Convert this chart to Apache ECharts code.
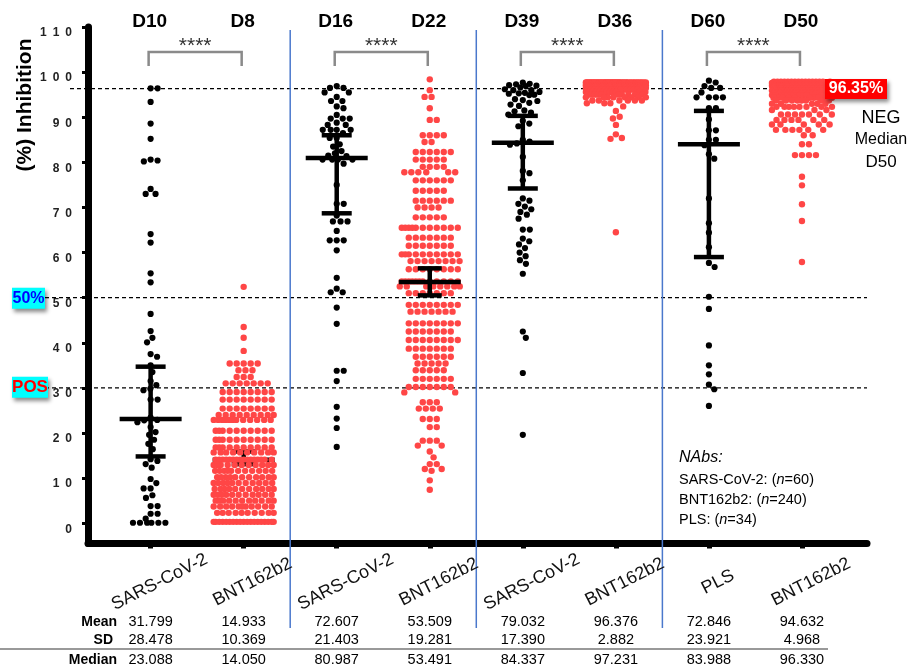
<!DOCTYPE html>
<html>
<head>
<meta charset="utf-8">
<script src="https://cdn.jsdelivr.net/npm/echarts@6/dist/echarts.min.js"></script>
<style>
  html, body { margin: 0; padding: 0; background: #fff; }
  #chart { width: 914px; height: 668px; }
</style>
</head>
<body>
<div id="chart"></div>
<script>
// ---- data ----
var groupNames = ['SARS-CoV-2', 'BNT162b2', 'SARS-CoV-2', 'BNT162b2', 'SARS-CoV-2', 'BNT162b2', 'PLS', 'BNT162b2'];
var dayNames = ['D10', 'D8', 'D16', 'D22', 'D39', 'D36', 'D60', 'D50'];
var yTicks = [0, 10, 20, 30, 40, 50, 60, 70, 80, 90, 100, 110];

// black groups: single values
var d10 = [96.4, 96.4, 93.4, 88.6, 85.2, 80.6, 80.4, 80.2, 74.1, 73.0, 73.0, 64.1, 62.2, 55.4, 53.4,
  46.4, 42.6, 41.1, 40.1, 37.5, 36.9, 35.0, 33.5, 31.5, 30.6, 29.8, 29.5, 27.4, 27.4, 22.9, 23.4,
  22.8, 22.4, 21.3, 20.2, 19.6, 18.5, 17.6, 16.4, 14.2, 13.8, 13.1, 12.3, 9.8, 8.9, 7.7, 7.7, 6.2,
  5.6, 3.8, 3.8, 2.1, 2.1, 1.0, 0.1, 0.1, 0.1, 0.1, 0.1, 0.1];
var d16 = [96.9, 96.5, 96.5, 95.5, 95.5, 94.5, 93.6, 93.6, 92.4, 92.0, 90.5, 89.7, 89.7, 89.7, 88.8,
  88.3, 88.3, 87.2, 87.2, 87.2, 87.2, 86.5, 85.4, 85.4, 84.0, 83.5, 82.5, 82.0, 81.5, 81.4, 80.6,
  80.6, 80.6, 80.6, 79.7, 75.0, 70.8, 70.8, 68.2, 66.9, 66.9, 66.9, 64.8, 62.7, 62.7, 62.7, 60.5,
  54.4, 52.0, 51.2, 51.2, 47.8, 44.2, 33.8, 33.8, 31.5, 25.8, 23.2, 21.1, 16.9];
var d39 = [97.7, 97.4, 97.3, 97.1, 97.0, 96.9, 96.6, 96.0, 96.0, 96.2, 95.6, 95.4, 95.2, 95.0, 94.9,
  95.3, 93.6, 93.2, 92.8, 92.5, 94.0, 93.8, 91.0, 90.6, 91.5, 91.3, 89.2, 88.6, 88.0, 85.0, 84.6,
  84.2, 83.9, 81.2, 78.1, 77.6, 76.0, 72.0, 71.5, 70.8, 70.2, 69.6, 69.0, 68.4, 67.5, 65.1, 65.1,
  63.1, 62.5, 61.8, 61.0, 60.0, 59.2, 58.3, 57.5, 55.3, 42.5, 41.1, 33.3, 19.6];
var d60 = [98.1, 97.7, 96.9, 96.5, 96.5, 95.5, 94.4, 94.4, 94.4, 94.4, 92.0, 92.0, 89.5, 87.1, 87.1,
  85.0, 85.0, 83.8, 81.8, 80.8, 72.0, 66.5, 64.4, 61.2, 57.7, 56.8, 50.2, 47.5, 39.4, 35.0, 33.0,
  30.7, 29.7, 26.0];

// red groups: rows of [value, number of dots in that row]
var d8Rows = [[52.4, 1], [43.5, 1], [41.1, 1], [38.2, 1], [35.4, 5], [33.9, 3], [32.4, 3], [31.0, 7],
  [29.1, 8], [27.4, 8], [25.4, 8], [24.0, 9], [22.9, 12], [20.5, 10], [18.5, 10], [16.8, 10], [15.7, 10],
  [14.1, 16], [12.9, 11], [11.6, 11], [10.2, 11], [8.9, 11], [7.6, 11], [6.3, 11], [5.0, 11], [3.7, 11],
  [2.3, 10], [0.3, 19]];
var d22Rows = [[98.4, 1], [96.0, 1], [94.5, 2], [92.0, 1], [89.4, 2], [86.0, 4], [84.5, 2], [82.3, 6],
  [80.6, 5], [79.0, 4], [77.8, 6], [76.0, 6], [73.7, 5], [71.5, 6], [70.0, 4], [67.8, 5], [65.5, 11],
  [63.3, 7], [61.5, 7], [59.6, 10], [58.1, 8], [56.3, 8], [53.6, 12], [52.5, 8], [51.0, 7], [48.4, 8],
  [46.9, 7], [44.3, 8], [42.5, 7], [40.6, 8], [38.7, 7], [36.9, 6], [35.4, 5], [33.9, 5], [32.0, 6],
  [30.2, 7], [29.0, 2], [26.8, 3], [25.4, 4], [23.1, 3], [21.3, 2], [18.3, 3], [17.2, 2], [15.9, 1],
  [14.6, 1], [13.1, 2], [12.0, 2], [11.6, 1], [9.5, 1], [7.4, 1]];
var d36Rows = [[97.7, 45], [97.4, 50], [97.1, 35], [96.8, 25], [96.5, 20], [96.1, 17], [95.6, 12],
  [95.0, 10], [94.4, 8], [93.7, 6], [93.1, 3], [92.4, 1], [91.4, 1], [90.1, 1], [89.7, 1], [88.3, 1],
  [86.2, 1], [85.4, 1], [85.2, 1], [64.5, 1]];
var d50Rows = [[97.9, 16], [97.6, 22], [97.3, 22], [97.0, 22], [96.7, 20], [96.3, 19], [95.9, 17],
  [95.4, 18], [94.9, 13], [94.3, 10], [93.7, 8], [93.0, 5], [92.3, 8], [91.6, 3], [90.6, 7], [89.4, 6],
  [88.4, 5], [87.2, 6], [86.0, 2], [84.0, 2], [81.6, 4], [76.8, 1], [74.9, 1], [70.7, 1], [67.0, 1],
  [57.9, 1]];

// median with error bars (drawn), and table statistics
var medians = [23.088, 14.050, 80.987, 53.491, 84.337, 97.231, 83.988, 96.330];
var barLow = [14.8, 13.1, 68.7, 50.5, 74.2, 96.5, 59.0, 95.6];
var barHigh = [34.7, 15.9, 86.0, 56.5, 90.3, 97.8, 91.4, 97.0];
var means = [31.799, 14.933, 72.607, 53.509, 79.032, 96.376, 72.846, 94.632];
var sds = [28.478, 10.369, 21.403, 19.281, 17.390, 2.882, 23.921, 4.968];

var negMedian = 96.35;
var cutoff50 = 50;
var cutoffPos = 30;

function expand(rows) {
  var out = [];
  rows.forEach(function (r) { for (var k = 0; k < r[1]; k++) out.push(r[0]); });
  return out;
}

var groups = [d10, expand(d8Rows), d16, expand(d22Rows), d39, expand(d36Rows), d60, expand(d50Rows)];
var isRed = [false, true, false, true, false, true, false, true];
var barsUnderDots = [1, 5, 7];

// ---- chart ----
var FONT = '"Liberation Sans", Arial, sans-serif';
var chart = echarts.init(document.getElementById('chart'));

chart.setOption({
  animation: false,
  backgroundColor: '#fff',
  grid: { left: 88, right: 47, top: 27, bottom: 124.5 },
  xAxis: {
    type: 'value', min: -0.673, max: 7.699,
    axisLine: { onZero: false, lineStyle: { color: '#000', width: 7 } },
    axisTick: { show: true, customValues: [0, 1, 2, 3, 4, 5, 6, 7], length: 5, lineStyle: { color: '#000', width: 5 } },
    axisLabel: { show: false },
    splitLine: { show: false }
  },
  yAxis: {
    type: 'value', min: -4.5, max: 110,
    axisLine: { show: true, onZero: false, lineStyle: { color: '#000', width: 7 } },
    axisTick: { show: true, customValues: yTicks, length: 6, lineStyle: { color: '#000', width: 3 } },
    axisLabel: {
      customValues: yTicks, margin: 16, verticalAlign: 'top',
      fontFamily: FONT, fontSize: 12, fontWeight: 'bold', color: '#222',
      formatter: function (v) { return String(v).split('').join('\u2002'); }
    },
    splitLine: { show: false }
  },
  series: [{ type: 'scatter', data: [] }]
});

function xp(v) { return chart.convertToPixel({ xAxisIndex: 0 }, v); }
function yp(v) { return chart.convertToPixel({ yAxisIndex: 0 }, v); }
var pxPerX = xp(1) - xp(0);
var pxPerY = yp(0) - yp(1);

// beeswarm offsets (pixels) for a list of values
function swarm(values, diam, maxHalf) {
  var order = values.map(function (v, i) { return i; })
    .sort(function (a, b) { return values[b] - values[a]; });
  var placed = [];
  var out = new Array(values.length);
  var d2 = diam * diam;
  order.forEach(function (i) {
    var y = values[i] * pxPerY;
    var near = placed.filter(function (p) { return Math.abs(p.y - y) < diam; });
    var cands = [0];
    near.forEach(function (p) {
      var dx = Math.sqrt(d2 - (p.y - y) * (p.y - y));
      cands.push(p.x + dx, p.x - dx);
    });
    var ok = cands.filter(function (c) {
      if (Math.abs(c) > maxHalf) return false;
      return near.every(function (p) { return (p.x - c) * (p.x - c) + (p.y - y) * (p.y - y) >= d2 - 0.01; });
    }).sort(function (a, b) { return (Math.abs(a) - Math.abs(b)) || (b - a); });
    var x = 0;
    if (ok.length) {
      x = ok[0];
    } else {
      var best = -1;
      for (var c = -maxHalf; c <= maxHalf; c += 0.5) {
        var m = Infinity;
        near.forEach(function (p) {
          var d = (p.x - c) * (p.x - c) + (p.y - y) * (p.y - y);
          if (d < m) m = d;
        });
        if (m > best) { best = m; x = c; }
      }
    }
    placed.push({ x: x, y: y });
    out[i] = x;
  });
  return out;
}

var dotSeries = groups.map(function (vals, g) {
  var off = isRed[g] ? swarm(vals, 7, 30) : swarm(vals, 7, 18);
  return {
    type: 'scatter',
    silent: true,
    symbol: 'circle',
    symbolSize: isRed[g] ? 6.4 : 6.2,
    z: 3,
    itemStyle: { color: isRed[g] ? '#ff4646' : '#000', opacity: 1 },
    data: vals.map(function (v, k) { return [g + off[k] / pxPerX, v]; })
  };
});

function barData(under) {
  return medians.map(function (m, g) { return [g, m, barLow[g], barHigh[g]]; })
    .filter(function (d) { return (barsUnderDots.indexOf(d[0]) >= 0) === under; });
}

function renderBar(params, api) {
  var g = api.value(0);
  var c = api.coord([g, api.value(1)]);
  var lo = api.coord([g, api.value(2)]);
  var hi = api.coord([g, api.value(3)]);
  var capHalf = isRed[g] ? 12 : 15;
  var medHalf = 31;
  var st = { stroke: '#000', lineWidth: 4.5 };
  return {
    type: 'group',
    children: [
      { type: 'line', shape: { x1: c[0], y1: lo[1], x2: c[0], y2: hi[1] }, style: st },
      { type: 'line', shape: { x1: c[0] - capHalf, y1: lo[1], x2: c[0] + capHalf, y2: lo[1] }, style: st },
      { type: 'line', shape: { x1: c[0] - capHalf, y1: hi[1], x2: c[0] + capHalf, y2: hi[1] }, style: st },
      { type: 'line', shape: { x1: c[0] - medHalf, y1: c[1], x2: c[0] + medHalf, y2: c[1] }, style: st }
    ]
  };
}

var series = [
  { type: 'custom', silent: true, z: 2, renderItem: renderBar, data: barData(true) }
].concat(dotSeries).concat([
  { type: 'custom', silent: true, z: 4, renderItem: renderBar, data: barData(false) }
]);

// ---- annotations ----
var gr = [];
function txt(x, y, text, opts) {
  var s = Object.assign({ text: text, x: x, y: y, fontFamily: FONT, fontSize: 14, fill: '#000', align: 'center', verticalAlign: 'middle' }, opts || {});
  var el = { type: 'text', style: s, silent: true, z: 10 };
  if (s.rotation) { el.x = x; el.y = y; el.rotation = s.rotation; s.x = 0; s.y = 0; delete s.rotation; }
  return el;
}

// y axis title
gr.push(txt(25, 105, '(%) Inhibition', { fontSize: 21, fontWeight: 'bold', rotation: Math.PI / 2 }));

// dashed reference lines
var dash = { stroke: '#000', lineWidth: 1.2, lineDash: [4, 3] };
gr.push({ type: 'line', silent: true, z: 1, shape: { x1: 70, y1: yp(negMedian), x2: 825, y2: yp(negMedian) }, style: dash });
gr.push({ type: 'line', silent: true, z: 1, shape: { x1: 45, y1: yp(cutoff50), x2: 867, y2: yp(cutoff50) }, style: dash });
gr.push({ type: 'line', silent: true, z: 1, shape: { x1: 45, y1: yp(cutoffPos), x2: 867, y2: yp(cutoffPos) }, style: dash });

// blue panel separators
[1.5, 3.5, 5.5].forEach(function (s) {
  gr.push({ type: 'line', silent: true, z: 1, shape: { x1: xp(s), y1: 30, x2: xp(s), y2: 628 }, style: { stroke: '#4a78cc', lineWidth: 1.5 } });
});

// day labels, brackets and stars
dayNames.forEach(function (d, g) {
  gr.push(txt(xp(g) - 1, 22, d, { fontSize: 19, fontWeight: 'bold' }));
});
[0, 2, 4, 6].forEach(function (g) {
  var x0 = xp(g) - 2, x1 = xp(g + 1) - 2;
  gr.push({ type: 'polyline', silent: true, z: 10, shape: { points: [[x0, 66], [x0, 52], [x1, 52], [x1, 66]] }, style: { stroke: '#8a8a8a', lineWidth: 2.5, fill: null } });
  gr.push(txt((x0 + x1) / 2, 46, '****', { fontSize: 21, fill: '#333' }));
});

// threshold boxes
function box(x, y, w, h, fill) {
  return { type: 'rect', silent: true, z: 9, shape: { x: x, y: y, width: w, height: h }, style: { fill: fill, shadowBlur: 4, shadowOffsetX: 2, shadowOffsetY: 3, shadowColor: 'rgba(0,0,0,0.45)' } };
}
gr.push(box(12, yp(cutoff50) - 10, 33, 21, '#00ffff'));
gr.push(txt(28.5, yp(cutoff50) + 0.5, '50%', { fontSize: 16, fontWeight: 'bold', fill: '#0000ff' }));
gr.push(box(12, yp(cutoffPos) - 11, 36, 21, '#00ffff'));
gr.push(txt(30, yp(cutoffPos) - 0.5, 'POS', { fontSize: 17, fontWeight: 'bold', fill: '#ff0000' }));
gr.push(box(825, yp(negMedian) - 9.5, 62, 20, '#ff0000'));
gr.push(txt(856, yp(negMedian) + 0.5, negMedian.toFixed(2) + '%', { fontSize: 16, fontWeight: 'bold', fill: '#fff' }));
gr.push(txt(881, 118, 'NEG', { fontSize: 18 }));
gr.push(txt(881, 140, 'Median', { fontSize: 16 }));
gr.push(txt(881, 162, 'D50', { fontSize: 17 }));

// n legend
var legRich = { i: { fontStyle: 'italic', fontFamily: FONT, fontSize: 14.5 } };
gr.push(txt(679, 458, 'NAbs:', { fontSize: 16, fontStyle: 'italic', align: 'left' }));
gr.push(txt(679, 480, 'SARS-CoV-2: ({i|n}=' + d10.length + ')', { fontSize: 14.5, align: 'left', rich: legRich }));
gr.push(txt(679, 500, 'BNT162b2: ({i|n}=' + groups[1].length + ')', { fontSize: 14.5, align: 'left', rich: legRich }));
gr.push(txt(679, 520, 'PLS: ({i|n}=' + d60.length + ')', { fontSize: 14.5, align: 'left', rich: legRich }));

// rotated category labels
groupNames.forEach(function (n, g) {
  gr.push(txt(xp(g) + 9, 582, n, { fontSize: 18, fill: '#111', rotation: 27 * Math.PI / 180 }));
});

// statistics table
gr.push(txt(117, 622, 'Mean', { fontSize: 14, fontWeight: 'bold', align: 'right' }));
gr.push(txt(113, 640, 'SD', { fontSize: 14, fontWeight: 'bold', align: 'right' }));
gr.push(txt(117, 660, 'Median', { fontSize: 14, fontWeight: 'bold', align: 'right' }));
gr.push({ type: 'line', silent: true, z: 1, shape: { x1: 0, y1: 649, x2: 828, y2: 649 }, style: { stroke: '#777', lineWidth: 1.5 } });
means.forEach(function (m, g) {
  gr.push(txt(xp(g), 622, m.toFixed(3), { fontSize: 14.5 }));
  gr.push(txt(xp(g), 640, sds[g].toFixed(3), { fontSize: 14.5 }));
  gr.push(txt(xp(g), 660, medians[g].toFixed(3), { fontSize: 14.5 }));
});

chart.setOption({ series: series, graphic: { elements: gr } }, { replaceMerge: ['series'] });
</script>
</body>
</html>
